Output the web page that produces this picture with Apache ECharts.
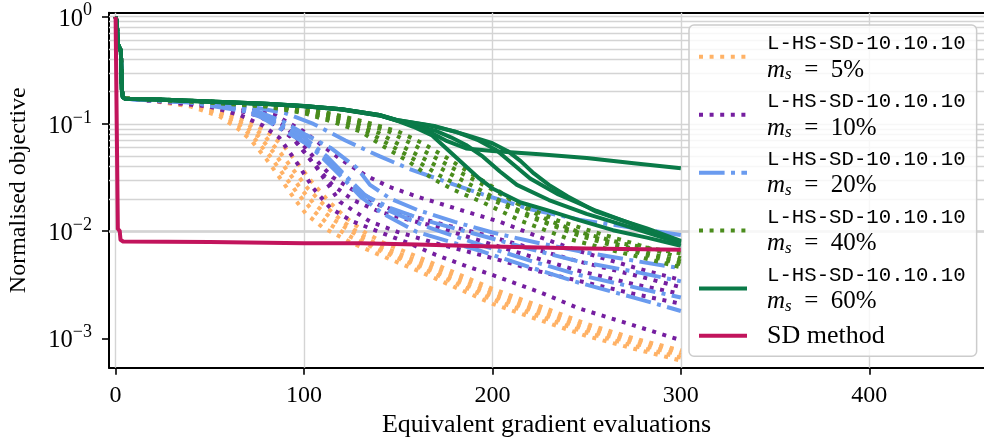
<!DOCTYPE html>
<html>
<head>
<meta charset="utf-8">
<script src="https://cdn.jsdelivr.net/npm/echarts@6/dist/echarts.min.js"></script>
<style>html,body{margin:0;padding:0;background:#fff}#c{width:984px;height:438px}</style>
</head>
<body>
<div id="c"></div>
<script>
// ---- data ----
const X_MIN = -3.5, X_MAX = 460.9;
const Y_MIN = 5.32e-4, Y_MAX = 1.09;
const X_TICKS = [0, 100, 200, 300, 400];
const Y_TICKS = [0.001, 0.01, 0.1, 1];
const Y_TICK_EXP = ['−3', '−2', '−1', '0'];
const Y_MINOR = [6e-4,7e-4,8e-4,9e-4, 2e-3,3e-3,4e-3,5e-3,6e-3,7e-3,8e-3,9e-3,
                 2e-2,3e-2,4e-2,5e-2,6e-2,7e-2,8e-2,9e-2, 0.2,0.3,0.4,0.5,0.6,0.7,0.8,0.9];

const GROUP_NAMES = ['ms5', 'ms10', 'ms20', 'ms40', 'ms60', 'sd'];
const GROUP_PCT = ['5%', '10%', '20%', '40%', '60%'];
const GROUP_COLORS = ['#FFB266', '#751EA0', '#6A9BEF', '#4A8C1C', '#0A7A48', '#C2145C'];

const HS_START = [[0,1],[0.6,0.9],[1.2,0.56],[2.8,0.48],[3.3,0.21],[3.8,0.178],[5,0.172]];

const O1 = [[20,0.163],[40,0.145],[55,0.118],[65,0.09],[72,0.07],[80,0.047],[88,0.03],[95,0.02],[101,0.0145],[110,0.0108],[125,0.0078],[140,0.006],[160,0.0043],[180,0.003],[200,0.0021],[225,0.00148],[250,0.00105],[275,0.0008],[300,0.00062]];
const O2 = [[20,0.164],[40,0.148],[55,0.124],[66,0.096],[74,0.072],[82,0.05],[90,0.032],[97,0.022],[104,0.016],[112,0.012],[125,0.0088],[140,0.0066],[160,0.0047],[180,0.0033],[200,0.0023],[225,0.0016],[250,0.00113],[275,0.00085],[300,0.00066]];
const O3 = [[20,0.165],[40,0.15],[55,0.128],[67,0.1],[76,0.076],[84,0.054],[92,0.035],[99,0.024],[106,0.0175],[115,0.013],[128,0.0092],[140,0.0069],[160,0.0049],[180,0.0035],[200,0.0025],[225,0.00172],[250,0.0012],[275,0.0009],[300,0.0007]];
const O4 = [[20,0.166],[40,0.153],[58,0.128],[70,0.1],[79,0.077],[87,0.055],[95,0.036],[102,0.025],[110,0.018],[120,0.0125],[130,0.0093],[140,0.0073],[160,0.0053],[180,0.0038],[200,0.0027],[225,0.00185],[250,0.00128],[275,0.00096],[300,0.00074]];
const O5 = [[20,0.166],[40,0.155],[60,0.13],[72,0.104],[82,0.08],[90,0.06],[97,0.042],[104,0.029],[113,0.019],[122,0.0135],[132,0.0098],[142,0.0078],[160,0.0058],[180,0.0041],[200,0.0029],[225,0.002],[250,0.00136],[275,0.001],[300,0.00077]];

const P1 = [[20,0.164],[50,0.145],[66,0.121],[78,0.097],[87,0.074],[96,0.044],[105,0.025],[114,0.0164],[125,0.0125],[140,0.0098],[155,0.0078],[170,0.006],[185,0.0048],[200,0.0039],[225,0.0027],[246,0.0019],[275,0.00132],[300,0.00096]];
const P2 = [[20,0.165],[55,0.148],[75,0.12],[88,0.092],[96,0.068],[107,0.0385],[119,0.0188],[135,0.0123],[150,0.0098],[170,0.0077],[200,0.0056],[225,0.0042],[250,0.0033],[275,0.0026],[300,0.0021]];
const P3 = [[20,0.166],[55,0.15],[75,0.125],[85,0.1],[95,0.07],[104,0.045],[115,0.027],[126,0.0195],[140,0.0152],[155,0.0128],[170,0.011],[190,0.0085],[215,0.0062],[245,0.0043],[275,0.0032],[300,0.0026]];
const P4 = [[20,0.166],[60,0.15],[80,0.122],[90,0.095],[98,0.068],[108,0.043],[115,0.032],[128,0.023],[140,0.0175],[155,0.0142],[170,0.012],[193,0.0095],[220,0.007],[246,0.0052],[275,0.0039],[300,0.003]];
const P5 = [[20,0.167],[60,0.152],[85,0.12],[100,0.085],[108.5,0.065],[120,0.046],[133,0.033],[145,0.026],[160,0.021],[186,0.0152],[204,0.0122],[225,0.0088],[246,0.0065],[275,0.0046],[300,0.0035]];

const B1 = [[20,0.165],[40,0.158],[68,0.132],[82,0.108],[95,0.08],[108,0.052],[120,0.032],[130,0.021],[142,0.0145],[160,0.0098],[193,0.0066],[220,0.0046],[246,0.0033],[275,0.0024],[300,0.0018]];
const B2 = [[20,0.166],[40,0.159],[70,0.135],[85,0.105],[100,0.075],[112,0.05],[122,0.033],[132,0.022],[145,0.0155],[165,0.011],[193,0.0075],[220,0.0053],[246,0.0039],[275,0.003],[300,0.0024]];
const B3 = [[20,0.166],[40,0.159],[70,0.138],[87,0.091],[105,0.06],[119,0.036],[131,0.022],[146,0.0164],[165,0.0125],[193,0.0092],[220,0.0068],[246,0.0052],[275,0.0042],[300,0.0034]];
const B4 = [[20,0.167],[40,0.16],[71,0.14],[89,0.105],[101,0.079],[114,0.06],[128,0.039],[135,0.027],[146,0.02],[160,0.0158],[180,0.0122],[200,0.0097],[225,0.0077],[250,0.0063],[275,0.0053],[300,0.0045]];
const B5 = [[20,0.167],[40,0.161],[70,0.147],[90,0.126],[105,0.1],[122,0.07],[140,0.05],[156,0.038],[175,0.029],[195,0.022],[220,0.016],[246,0.0128],[275,0.0107],[300,0.0092]];

const D1 = [[20,0.168],[50,0.158],[80,0.145],[100,0.126],[115,0.105],[130,0.085],[142,0.062],[156,0.044],[168,0.031],[180,0.024],[195,0.0185],[215,0.0125],[240,0.0085],[270,0.0062],[300,0.0046]];
const D2 = [[20,0.168],[50,0.159],[80,0.147],[100,0.13],[120,0.105],[135,0.082],[148,0.06],[160,0.045],[172,0.033],[185,0.025],[200,0.0195],[220,0.0135],[245,0.0092],[270,0.0068],[300,0.0049]];
const D3 = [[20,0.169],[50,0.16],[80,0.148],[100,0.133],[125,0.103],[140,0.082],[152,0.062],[165,0.046],[178,0.034],[192,0.025],[211,0.0165],[230,0.0118],[250,0.0092],[275,0.0068],[300,0.0052]];
const D4 = [[20,0.169],[50,0.161],[80,0.15],[105,0.132],[128,0.105],[145,0.085],[158,0.064],[170,0.048],[182,0.036],[197,0.026],[215,0.0175],[235,0.0125],[255,0.0097],[278,0.0074],[300,0.0056]];
const D5 = [[20,0.17],[50,0.162],[80,0.152],[110,0.13],[132,0.105],[150,0.085],[163,0.066],[176,0.048],[188,0.035],[200,0.026],[211,0.019],[230,0.0125],[246,0.0098],[270,0.0076],[300,0.0062]];

const G1 = [[20,0.169],[50,0.161],[80,0.153],[100,0.146],[120,0.136],[140,0.12],[150,0.107],[158,0.097],[168,0.082],[176,0.069],[186,0.059],[200,0.056],[225,0.052],[250,0.048],[275,0.043],[300,0.0385]];
const G2 = [[20,0.169],[50,0.161],[80,0.153],[100,0.146],[120,0.136],[140,0.12],[150,0.106],[158,0.094],[168,0.078],[176,0.058],[186,0.04],[193,0.031],[200,0.025],[215,0.0185],[229,0.0157],[245,0.0128],[264,0.0102],[282,0.0087],[300,0.0073]];
const G3 = [[20,0.17],[50,0.162],[80,0.154],[100,0.147],[120,0.137],[140,0.121],[150,0.107],[160,0.096],[170,0.086],[178,0.075],[186,0.0636],[195,0.0495],[204,0.036],[213,0.027],[230,0.0195],[250,0.0145],[270,0.0113],[300,0.0077]];
const G4 = [[20,0.17],[50,0.162],[80,0.154],[100,0.147],[120,0.137],[140,0.121],[150,0.108],[165,0.098],[180,0.085],[192,0.071],[202,0.057],[211,0.042],[220,0.031],[235,0.022],[255,0.0155],[275,0.0115],[300,0.0079]];
const G5 = [[20,0.17],[50,0.162],[80,0.154],[100,0.147],[120,0.137],[140,0.121],[150,0.108],[170,0.095],[186,0.079],[200,0.066],[208,0.056],[215,0.045],[222,0.0345],[230,0.027],[240,0.021],[255,0.0152],[270,0.0124],[282,0.0106],[300,0.0081]];

const SD = [[0,1],[1,1],[1.2,0.0105],[2.2,0.0100],[2.6,0.0083],[4,0.008],[50,0.0079],[100,0.0077],[130,0.0077],[160,0.0075],[200,0.0072],[250,0.0069],[300,0.0067]];

const GROUP_RUNS = [[O1,O2,O3,O4,O5],[P1,P2,P3,P4,P5],[B1,B2,B3,B4,B5],[D1,D2,D3,D4,D5],[G1,G2,G3,G4,G5]];

// ---- styles ----
const LW = 4;
const DOT = [LW*1, LW*1.65];
const DASHDOT = [LW*6.4, LW*1.6, LW*1, LW*1.6];
const GROUP_DASH = [DOT, DOT, DASHDOT, DOT, 'solid', 'solid'];
const SERIF = 'Liberation Serif';
const MONO = 'Liberation Mono';
const GRID_COLOR = '#d4d4d4';

const series = [];
GROUP_RUNS.forEach((runs, gi) => {
  runs.forEach(run => {
    series.push({
      type: 'line', name: GROUP_NAMES[gi], data: HS_START.concat(run),
      symbol: 'none', showSymbol: false, silent: true, z: 3,
      lineStyle: { color: GROUP_COLORS[gi], width: LW, type: GROUP_DASH[gi], cap: 'butt', join: 'round' },
      itemStyle: { color: GROUP_COLORS[gi] }
    });
  });
});
series.push({
  type: 'line', name: GROUP_NAMES[5], data: SD, symbol: 'none', showSymbol: false, silent: true, z: 3,
  lineStyle: { color: GROUP_COLORS[5], width: LW, type: 'solid', join: 'round' },
  itemStyle: { color: GROUP_COLORS[5] }
});

const legendRich = {
  t: { fontFamily: MONO, fontSize: 20.7, lineHeight: 26.5, color: '#000', padding: [0,0,0,15], verticalAlign: 'middle' },
  m: { fontFamily: SERIF, fontStyle: 'italic', fontSize: 25, lineHeight: 26.5, color: '#000', padding: [0,0,0,15], verticalAlign: 'middle' },
  s: { fontFamily: SERIF, fontStyle: 'italic', fontSize: 17, lineHeight: 15, color: '#000', verticalAlign: 'bottom' },
  r: { fontFamily: SERIF, fontSize: 25, lineHeight: 26.5, color: '#000', verticalAlign: 'middle' },
  d: { fontFamily: SERIF, fontSize: 26, lineHeight: 26.5, color: '#000', padding: [0,0,0,15], verticalAlign: 'middle' }
};

const chart = echarts.init(document.getElementById('c'), null, { renderer: 'canvas' });
chart.setOption({
  animation: false,
  backgroundColor: '#fff',
  grid: { left: 109, right: 0, top: 12.7, bottom: 70.3, containLabel: false, outerBoundsMode: 'none' },
  xAxis: [{
    type: 'value', min: X_MIN, max: X_MAX, position: 'bottom',
    name: 'Equivalent gradient evaluations', nameLocation: 'middle', nameGap: 43,
    nameTextStyle: { fontFamily: SERIF, fontSize: 26, color: '#000' },
    axisLine: { show: true, onZero: false, lineStyle: { color: '#000', width: 2 } },
    axisTick: { show: true, length: 7, customValues: X_TICKS, lineStyle: { color: '#000', width: 1.6 } },
    axisLabel: { show: true, customValues: X_TICKS, margin: 16, fontFamily: SERIF, fontSize: 24, lineHeight: 24, color: '#000' },
    splitLine: { show: false }
  }, {
    type: 'value', min: X_MIN, max: X_MAX, position: 'top',
    axisLine: { show: true, onZero: false, lineStyle: { color: '#000', width: 2 } },
    axisTick: { show: false }, axisLabel: { show: false }, splitLine: { show: false }
  }],
  yAxis: [{
    type: 'log', logBase: 10, min: Y_MIN, max: Y_MAX, position: 'left',
    name: 'Normalised objective', nameLocation: 'middle', nameGap: 78,
    nameTextStyle: { fontFamily: SERIF, fontSize: 24, color: '#000' },
    axisLine: { show: true, onZero: false, lineStyle: { color: '#000', width: 2 } },
    axisTick: { show: true, length: 7, customValues: Y_TICKS, lineStyle: { color: '#000', width: 1.6 } },
    axisLabel: {
      show: true, customValues: Y_TICKS, margin: 17,
      formatter: v => {
        const i = Y_TICKS.findIndex(t => Math.abs(t - v) / t < 1e-6);
        return i < 0 ? '' : '{b|10}{e|' + Y_TICK_EXP[i] + '}';
      },
      rich: {
        b: { fontFamily: SERIF, fontSize: 24.5, lineHeight: 30, color: '#000', verticalAlign: 'bottom' },
        e: { fontFamily: SERIF, fontSize: 18, lineHeight: 18, color: '#000', verticalAlign: 'top' }
      }
    },
    splitLine: { show: false }
  }],
  series: series.concat([{
    type: 'line', data: [], silent: true, z: 1,
    markLine: {
      silent: true, symbol: 'none', animation: false, z: 1,
      label: { show: false },
      lineStyle: { color: GRID_COLOR, width: 1.4, type: 'solid' },
      data: Y_MINOR.concat(Y_TICKS).map(v => ({ yAxis: v })).concat(X_TICKS.map(v => ({ xAxis: v })))
    }
  }]),
  legend: {
    show: true, orient: 'vertical', left: 689, top: 25,
    padding: [8, 11, 7.5, 8], itemGap: 7.7, itemWidth: 48, itemHeight: 14,
    backgroundColor: 'rgba(255,255,255,0.8)', borderColor: '#cccccc', borderWidth: 1.5, borderRadius: 5,
    selectedMode: false,
    itemStyle: { opacity: 0, borderWidth: 0 },
    lineStyle: { width: LW },
    data: GROUP_NAMES,
    formatter: name => {
      const i = GROUP_NAMES.indexOf(name);
      if (i === 5) return '{d|SD method}';
      return '{t|L-HS-SD-10.10.10}\n{m|m}{s|s}{r|\u2002=\u2002' + GROUP_PCT[i] + '}';
    },
    textStyle: { rich: legendRich }
  }
});
</script>
</body>
</html>
